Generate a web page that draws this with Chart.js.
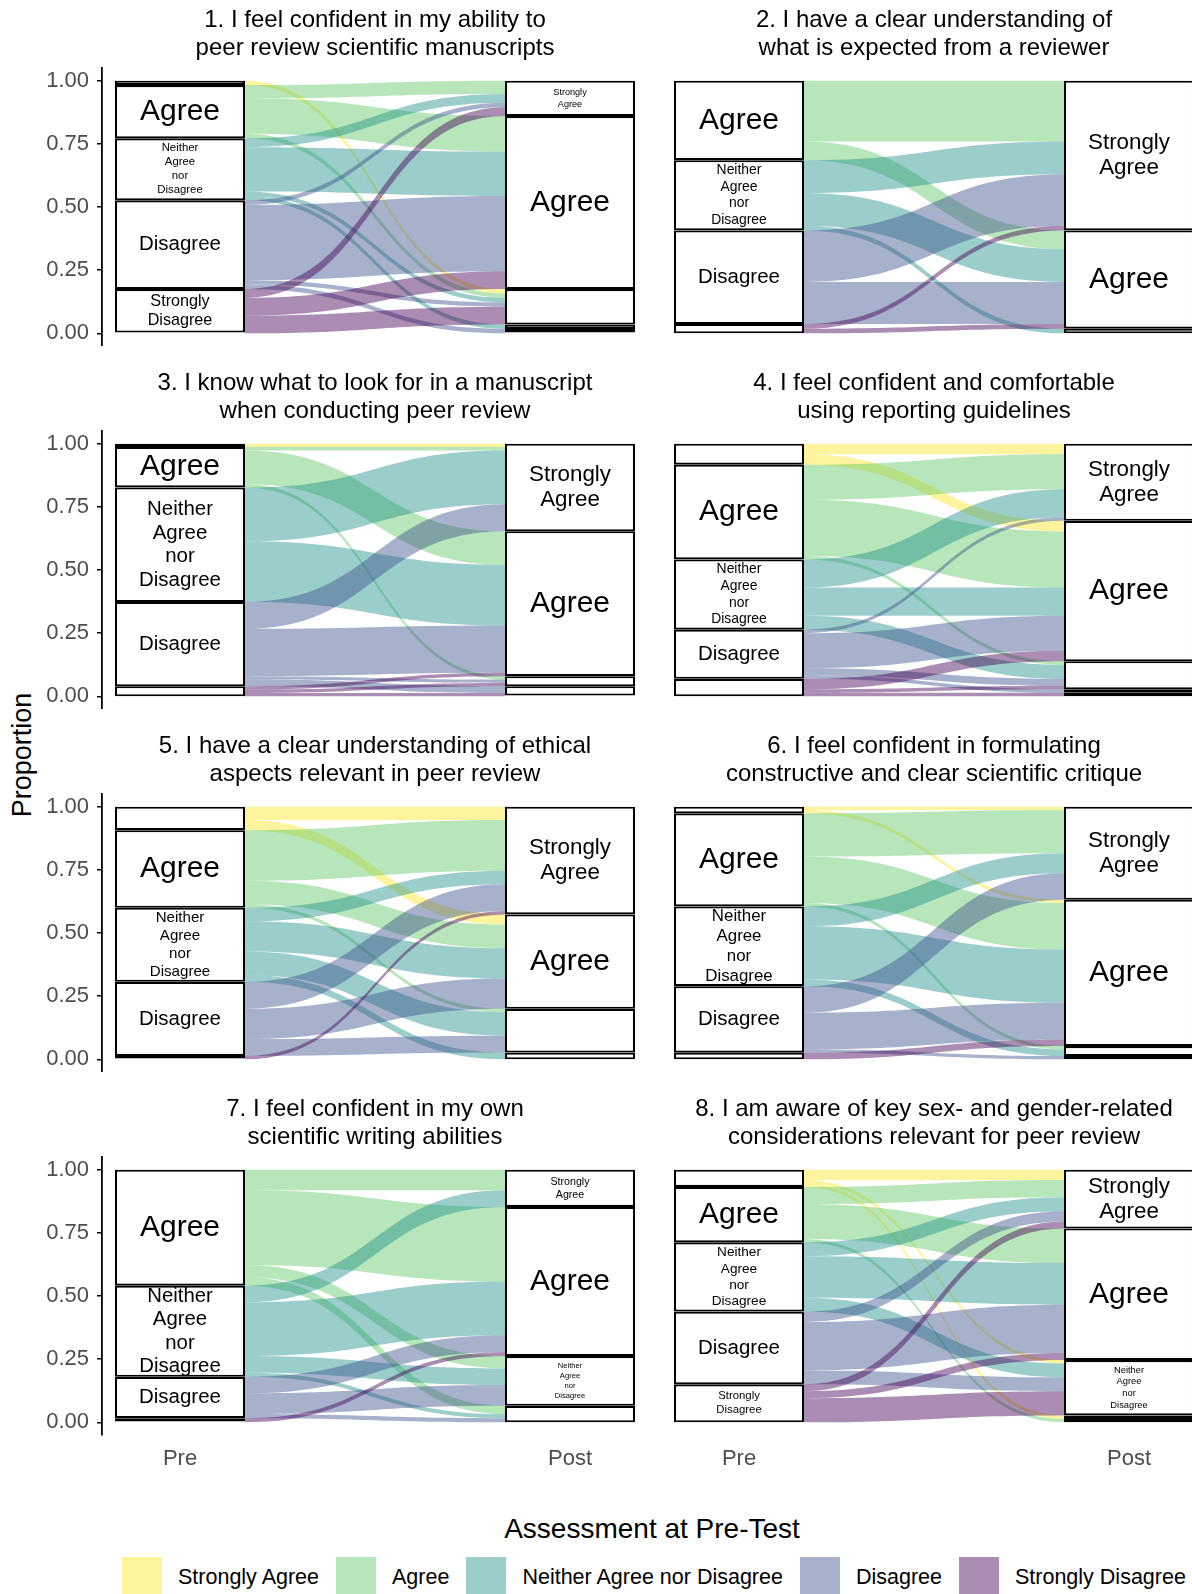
<!DOCTYPE html>
<html>
<head>
<meta charset="utf-8">
<script src="https://cdn.jsdelivr.net/npm/chart.js@4.4.1/dist/chart.umd.min.js"></script>
<style>
  body { margin:0; width:1192px; height:1594px; overflow:hidden; background:#fff; position:relative;
         font-family:"Liberation Sans", Arial, sans-serif; }
  canvas { position:absolute; }
  #ylab { position:absolute; left:22px; top:755px; transform:translate(-50%,-50%) rotate(-90deg);
          font-size:27px; white-space:nowrap; color:#000; }
  #legTitle { position:absolute; left:652px; top:1529px; transform:translate(-50%,-50%);
              font-size:28px; white-space:nowrap; color:#000; }
  #legend { position:absolute; left:122px; top:1557px; height:40px; display:flex; align-items:center; }
  #legend .sw { width:40px; height:40px; margin-right:16px; }
  #legend .lb { font-size:21.5px; margin-right:17px; white-space:nowrap; }
</style>
</head>
<body>
<div id="ylab">Proportion</div>
<div id="legTitle">Assessment at Pre-Test</div>
<div id="legend"></div>
<script>
// answer categories, top of the stack first
const categories = ['Strongly Agree', 'Agree', 'Neither Agree nor Disagree', 'Disagree', 'Strongly Disagree'];
const colours = ['#FDE725', '#5DC863', '#21908C', '#3B528B', '#440154'];
const xLabels = ['Pre', 'Post'];
const xPositions = [1, 2];
const yTicks = [0, 0.25, 0.5, 0.75, 1];

const titles = [
  ['1. I feel confident in my ability to', 'peer review scientific manuscripts'],
  ['2. I have a clear understanding of', 'what is expected from a reviewer'],
  ['3. I know what to look for in a manuscript', 'when conducting peer review'],
  ['4. I feel confident and comfortable', 'using reporting guidelines'],
  ['5. I have a clear understanding of ethical', 'aspects relevant in peer review'],
  ['6. I feel confident in formulating', 'constructive and clear scientific critique'],
  ['7. I feel confident in my own', 'scientific writing abilities'],
  ['8. I am aware of key sex- and gender-related', 'considerations relevant for peer review']
];

// respondents moving from pre answer (rows) to post answer (columns)
const q1 = [[0,0,1,0,0],[3,8,1,0,0],[2,10,1,1,0],[1,17,1,0,1],[2,4,4,0,0]];
const q2 = [[0,0,0,0,0],[13,4,0,0,0],[7,7,0,1,0],[11,9,0,0,0],[1,1,0,0,0]];
const q3 = [[1,0,0,0,0],[1,10,1,0,0],[16,18,0,0,0],[8,14,1,2,0],[0,1,1,1,0]];
const q4 = [[3,3,0,0,0],[10,16,1,0,0],[8,8,4,0,0],[1,10,2,1,0],[0,3,1,0,1]];
const q5 = [[4,3,0,0,0],[15,7,1,0,0],[4,9,7,2,0],[8,9,5,0,0],[1,0,0,0,0]];
const q6 = [[1,1,0,0,0],[13,14,1,0,0],[6,16,2,0,0],[8,11,0,1,0],[0,2,0,0,0]];
const q7 = [[0,0,0,0,0],[5,18,3,2,0],[4,13,4,1,0],[0,4,5,1,0],[0,1,0,0,0]];
const q8 = [[3,0,1,1,0],[5,10,0,0,1],[4,12,4,0,0],[3,14,4,0,0],[2,2,7,0,0]];
const questions = [q1, q2, q3, q4, q5, q6, q7, q8];

const FONT = '"Liberation Sans", Arial, sans-serif';
const ALPHA = 0.45;
const BAR = 1 / 3;

function rgba(hex, a) {
  const n = parseInt(hex.slice(1), 16);
  return `rgba(${n >> 16},${(n >> 8) & 255},${n & 255},${a})`;
}
const rowSums = m => m.map(r => r.reduce((a, b) => a + b, 0));
const colSums = m => m[0].map((_, j) => m.reduce((a, r) => a + r[j], 0));

// legend
const leg = document.getElementById('legend');
categories.forEach((c, i) => {
  const sw = document.createElement('div');
  sw.className = 'sw';
  sw.style.background = rgba(colours[i], ALPHA);
  const lb = document.createElement('div');
  lb.className = 'lb';
  lb.textContent = c;
  leg.appendChild(sw);
  leg.appendChild(lb);
});

// flows between the two stacks + stratum labels
const alluvial = {
  id: 'alluvial',
  beforeDatasetsDraw(chart, args, opts) {
    const { ctx, scales: { x, y } } = chart;
    const m = opts.matrix, n = opts.total;
    const rs = rowSums(m), cs = colSums(m);
    const preCur = [], postCur = [];
    let t = 1;
    rs.forEach((v, i) => { preCur[i] = t; t -= v / n; });
    t = 1;
    cs.forEach((v, j) => { postCur[j] = t; t -= v / n; });
    const x0 = x.getPixelForValue(xPositions[0] + BAR / 2);
    const x1 = x.getPixelForValue(xPositions[1] - BAR / 2);
    const xm = (x0 + x1) / 2;
    ctx.save();
    for (let i = 0; i < m.length; i++) {
      for (let j = 0; j < m[i].length; j++) {
        const v = m[i][j] / n;
        if (!v) continue;
        const a0 = y.getPixelForValue(preCur[i]), a1 = y.getPixelForValue(preCur[i] - v);
        const b0 = y.getPixelForValue(postCur[j]), b1 = y.getPixelForValue(postCur[j] - v);
        preCur[i] -= v; postCur[j] -= v;
        ctx.beginPath();
        ctx.moveTo(x0, a0);
        ctx.bezierCurveTo(xm, a0, xm, b0, x1, b0);
        ctx.lineTo(x1, b1);
        ctx.bezierCurveTo(xm, b1, xm, a1, x0, a1);
        ctx.closePath();
        ctx.fillStyle = rgba(colours[i], ALPHA);
        ctx.fill();
      }
    }
    ctx.restore();
  },
  afterDatasetsDraw(chart) {
    const ctx = chart.ctx;
    ctx.save();
    ctx.fillStyle = '#000';
    ctx.textAlign = 'center';
    ctx.textBaseline = 'middle';
    chart.data.datasets.forEach((ds, d) => {
      const lines = ds.label.split(' ');
      const L = lines.length;
      chart.getDatasetMeta(d).data.forEach(el => {
        const { x, y, base } = el.getProps(['x', 'y', 'base'], true);
        const h = Math.abs(base - y);
        ctx.font = '10px ' + FONT;
        const wEm = Math.max(...lines.map(l => ctx.measureText(l).width)) / 10;
        const s = Math.min(30, 82 / wEm, (h - 25) / (1.05 * (L - 1) + 0.1));
        if (!(s >= 7)) return;
        ctx.font = s + 'px ' + FONT;
        const gap = s * 1.05 + 2;
        const cy = (y + base) / 2;
        lines.forEach((l, k) => {
          ctx.fillText(l, x, cy + (k - (L - 1) / 2) * gap);
        });
      });
    });
    ctx.restore();
  }
};

questions.forEach((m, q) => {
  const row = Math.floor(q / 2), left = q % 2 === 0, bottom = row === 3;
  const n = rowSums(m).reduce((a, b) => a + b, 0);
  const rs = rowSums(m), cs = colSums(m);
  let tp = 1, tq = 1;
  const datasets = categories.map((c, i) => {
    const data = [];
    if (rs[i]) data.push({ x: xPositions[0], y: [tp - rs[i] / n, tp] });
    if (cs[i]) data.push({ x: xPositions[1], y: [tq - cs[i] / n, tq] });
    tp -= rs[i] / n; tq -= cs[i] / n;
    return {
      label: c, data,
      backgroundColor: '#fff', borderColor: '#000', borderWidth: 2.1,
      borderSkipped: false, inflateAmount: 0, grouped: false,
      categoryPercentage: 1, barPercentage: BAR
    };
  });

  const cv = document.createElement('canvas');
  const w = left ? 648 : 546, h = bottom ? 386 : 346;
  cv.width = w; cv.height = h;
  cv.style.width = w + 'px'; cv.style.height = h + 'px';
  cv.style.left = (left ? 0 : 661) + 'px';
  cv.style.top = (row * 363) + 'px';
  document.body.appendChild(cv);

  new Chart(cv, {
    type: 'bar',
    data: { datasets },
    options: {
      responsive: false, animation: false, events: [],
      layout: { padding: 0, autoPadding: false },
      plugins: {
        legend: { display: false }, tooltip: { enabled: false },
        title: {
          display: true, text: titles[q], color: '#000', fullSize: false,
          font: { family: FONT, size: 24, weight: 'normal', lineHeight: 28 / 24 },
          padding: { top: 6, bottom: 6 }
        },
        alluvial: { matrix: m, total: n }
      },
      scales: {
        x: {
          type: 'linear', min: 0.8, max: 2.2, offset: false, display: bottom,
          afterBuildTicks: s => { s.ticks = xPositions.map(v => ({ value: v })); },
          afterFit: s => { s.height = bottom ? 40 : 0; s.paddingLeft = 0; s.paddingRight = 0; },
          grid: { display: false, drawTicks: false, offset: false }, border: { display: false },
          ticks: { callback: v => xLabels[xPositions.indexOf(v)], color: '#4D4D4D',
                   font: { family: FONT, size: 22 }, padding: 11 }
        },
        y: {
          min: -0.05, max: 1.05, display: left,
          afterBuildTicks: s => { s.ticks = yTicks.map(v => ({ value: v })); },
          afterFit: s => { s.width = left ? 102 : 0; s.paddingTop = 0; s.paddingBottom = 0; },
          grid: { display: true, drawOnChartArea: false, drawTicks: true, tickLength: 5, color: '#000', lineWidth: 1.5 },
          border: { display: true, color: '#000', width: 1.8 },
          ticks: { callback: v => v.toFixed(2), color: '#4D4D4D', padding: 8,
                   font: { family: FONT, size: 22 } }
        }
      }
    },
    plugins: [alluvial]
  });
});
</script>
</body>
</html>
